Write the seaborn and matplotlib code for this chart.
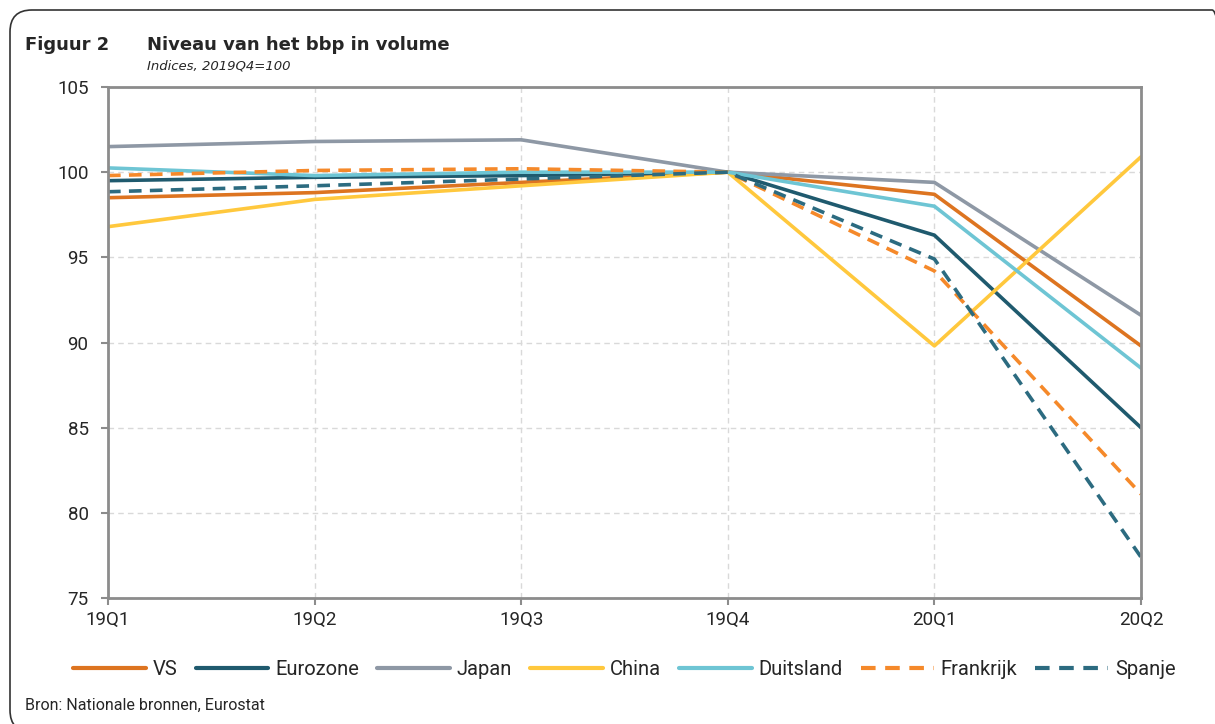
import matplotlib
matplotlib.use("Agg")
import matplotlib.pyplot as plt
import seaborn as sns
import pandas as pd
from matplotlib.patches import FancyBboxPatch

# data (indices, 2019Q4=100)
quarters = ["19Q1", "19Q2", "19Q3", "19Q4", "20Q1", "20Q2"]
vs = [98.5, 98.8, 99.4, 100.0, 98.7, 89.8]
eurozone = [99.5, 99.7, 99.8, 100.0, 96.3, 85.0]
japan = [101.5, 101.8, 101.9, 100.0, 99.4, 91.6]
china = [96.8, 98.4, 99.2, 100.0, 89.8, 100.9]
duitsland = [100.25, 99.8, 100.0, 100.0, 98.0, 88.5]
frankrijk = [99.8, 100.1, 100.2, 100.0, 94.2, 81.1]
spanje = [98.85, 99.2, 99.6, 100.0, 94.9, 77.4]

series = {"VS": vs, "Eurozone": eurozone, "Japan": japan, "China": china,
          "Duitsland": duitsland, "Frankrijk": frankrijk, "Spanje": spanje}
colors = {"VS": "#DD7420", "Eurozone": "#1F5A6E", "Japan": "#8E98A5", "China": "#FFC83D",
          "Duitsland": "#6EC5D4", "Frankrijk": "#F5892A", "Spanje": "#2C6B80"}
dashes = {"VS": "", "Eurozone": "", "Japan": "", "China": "", "Duitsland": "",
          "Frankrijk": (3.5, 2.3), "Spanje": (3.5, 2.3)}

rows = []
for name, vals in series.items():
    for q, v in zip(quarters, vals):
        rows.append({"kwartaal": q, "index": v, "land": name})
df = pd.DataFrame(rows)

sns.set_style("white")
plt.rcParams["font.family"] = ["Roboto", "DejaVu Sans"]

fig = plt.figure(figsize=(12.15, 7.24), dpi=100)
ax = fig.add_axes([108 / 1215, 1 - 598 / 724, (1141 - 108) / 1215, (598 - 87) / 724])

sns.lineplot(data=df, x="kwartaal", y="index", hue="land", style="land",
             palette=colors, dashes=dashes, linewidth=2.6, sort=False, ax=ax)

ax.set_xlim(0, 5)
ax.set_ylim(75, 105)
ax.set_yticks([75, 80, 85, 90, 95, 100, 105])
ax.set_xlabel("")
ax.set_ylabel("")
ax.grid(True, color="#d9d9d9", linestyle=(0, (4, 3)), linewidth=1)
for s in ax.spines.values():
    s.set_color("#8c8c8c")
    s.set_linewidth(2)
ax.tick_params(axis="y", length=5, width=1.5, color="#8c8c8c", labelsize=13.5, pad=9)
ax.tick_params(axis="x", length=5, width=1.5, color="#8c8c8c", labelsize=13.5, pad=4)
ax.tick_params(left=True, bottom=True)

sns.move_legend(ax, "center", bbox_to_anchor=(0.5, -0.14), ncol=7, frameon=False,
                title=None, fontsize=14.5, handlelength=3.6, handletextpad=0.35,
                columnspacing=0.9)
for h in ax.get_legend().get_lines():
    h.set_linewidth(3)

fig.text(25 / 1215, 1 - 45 / 724, "Figuur 2", fontsize=13, fontweight="bold",
         family="DejaVu Sans", va="center")
fig.text(147 / 1215, 1 - 45 / 724, "Niveau van het bbp in volume", fontsize=13,
         fontweight="bold", family="DejaVu Sans", va="center")
fig.text(147 / 1215, 1 - 66 / 724, "Indices, 2019Q4=100", fontsize=9.5,
         style="italic", family="DejaVu Sans", va="center")
fig.text(25 / 1215, 1 - 705 / 724, "Bron: Nationale bronnen, Eurostat", fontsize=11.5,
         va="center")

# rounded frame around the whole figure (mostly cut off at right and bottom)
frame = FancyBboxPatch((10 / 1215, -8 / 724), 1234 / 1215 - 10 / 1215, (714 + 8) / 724,
                       boxstyle="round,pad=0,rounding_size=0.018",
                       transform=fig.transFigure, facecolor="none",
                       edgecolor="#333333", linewidth=1.2, mutation_aspect=1215 / 724)
fig.patches.append(frame)

fig.savefig("out.png", dpi=100)
